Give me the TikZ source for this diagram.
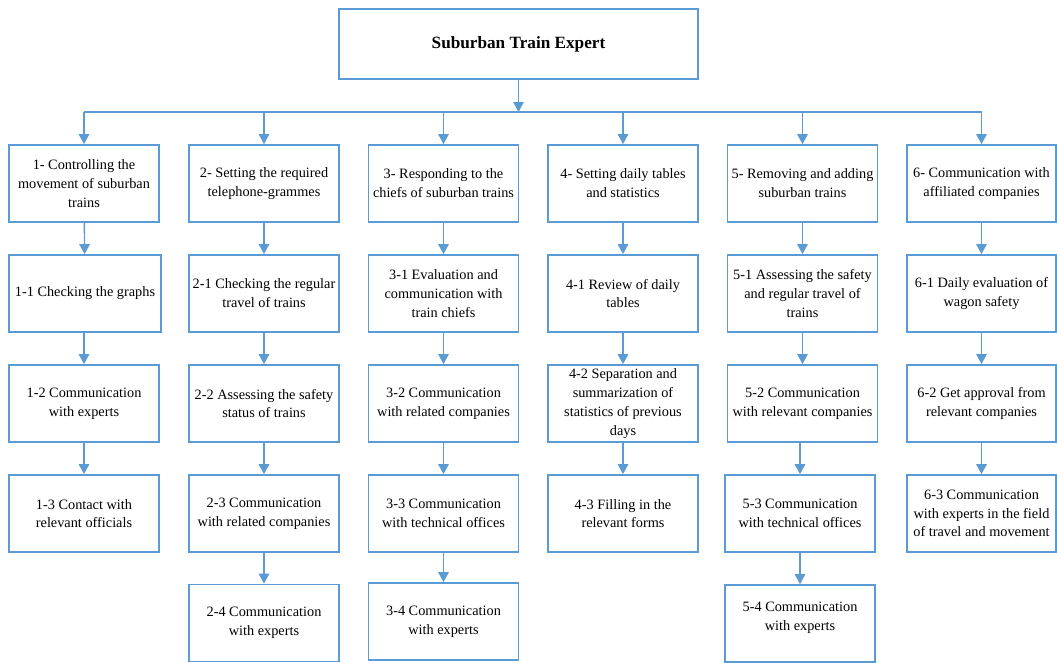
\documentclass[tikz,border=0pt]{standalone}
\usepackage{fontspec}
\setmainfont{Liberation Serif}
\usetikzlibrary{arrows.meta}
\definecolor{boxblue}{RGB}{91,155,213}
\tikzset{
  box/.style={draw=boxblue, line width=1.8pt, minimum width=150pt, minimum height=77pt,
    inner sep=0pt, align=center, font=\fontsize{14.3}{18.8}\selectfont},
  titlebox/.style={draw=boxblue, line width=1.8pt, minimum width=359pt, minimum height=70pt,
    inner sep=0pt, align=center, font=\bfseries\fontsize{17.2}{20}\selectfont},
  arr/.style={draw=boxblue, line width=1.4pt, -{Triangle[length=10pt,width=10.5pt]}},
  bus/.style={draw=boxblue, line width=1.4pt}
}
\begin{document}
\begin{tikzpicture}[x=1pt,y=-1pt]
\useasboundingbox (0,0) rectangle (1057,662);
\node[titlebox] (top) at (518.5,44) {Suburban Train Expert};
\coordinate (bus) at (518.5,112);
% column 1
\node[box] (n10) at (84,183.5) {1- Controlling the\\movement of suburban\\trains};
\node[box, minimum width=152.5pt] (n11) at (85,293.5) {1-1 Checking the graphs};
\node[box] (n12) at (84,403.5) {1-2 Communication\\with experts};
\node[box] (n13) at (84,513.5) {1-3 Contact with\\relevant officials};
% column 2
\node[box] (n20) at (264,183.5) {2- Setting the required\\telephone-grammes};
\node[box] (n21) at (264,293.5) {2-1 Checking the regular\\travel of trains};
\node[box] (n22) at (264,403.5) {2-2 Assessing the safety\\status of trains};
\node[box] (n23) at (264,513.5) {2-3 Communication\\with related companies};
\node[box] (n24) at (264,623) {2-4 Communication\\with experts};
% column 3
\node[box] (n30) at (443.5,183.5) {3- Responding to the\\chiefs of suburban trains};
\node[box] (n31) at (443.5,293.5) {3-1 Evaluation and\\communication with\\train chiefs};
\node[box] (n32) at (443.5,403.5) {3-2 Communication\\with related companies};
\node[box] (n33) at (443.5,513.5) {3-3 Communication\\with technical offices};
\node[box] (n34) at (443.5,621.5) {3-4 Communication\\with experts};
% column 4
\node[box] (n40) at (623,183.5) {4- Setting daily tables\\and statistics};
\node[box] (n41) at (623,293.5) {4-1 Review of daily\\tables};
\node[box] (n42) at (623,403.5) {4-2 Separation and\\summarization of\\statistics of previous\\days};
\node[box] (n43) at (623,513.5) {4-3 Filling in the\\relevant forms};
% column 5
\node[box] (n50) at (802.5,183.5) {5- Removing and adding\\suburban trains};
\node[box] (n51) at (802.5,293.5) {5-1 Assessing the safety\\and regular travel of\\trains};
\node[box] (n52) at (802.5,403.5) {5-2 Communication\\with relevant companies};
\node[box] (n53) at (800,513.5) {5-3 Communication\\with technical offices};
\node[box, label={[yshift=6pt, align=center, font=\fontsize{14.3}{18.8}\selectfont]center:{5-4 Communication\\with experts}}] (n54) at (800,623.5) {};
% column 6
\node[box, minimum width=149pt] (n60) at (981.5,183.5) {6- Communication with\\affiliated companies};
\node[box, minimum width=149pt] (n61) at (981.5,293.5) {6-1 Daily evaluation of\\wagon safety};
\node[box, minimum width=149pt] (n62) at (981.5,403.5) {6-2 Get approval from\\relevant companies};
\node[box, minimum width=149pt] (n63) at (981.5,513.5) {6-3 Communication\\with experts in the field\\of travel and movement};
% connectors
\draw[arr] (top) -- (bus);
\draw[bus] (bus) -- (bus -| n10.north);
\draw[bus] (bus) -- (bus -| n60.north);
\foreach \n in {n10,n20,n30,n40,n50,n60} {
  \draw[arr] (bus -| \n.north) -- (\n.north);
}
\draw[arr] (n10) -- (n11);
\draw[arr] (n11.south -| n12.north) -- (n12);
\draw[arr] (n12) -- (n13);
\draw[arr] (n20) -- (n21);
\draw[arr] (n21) -- (n22);
\draw[arr] (n22) -- (n23);
\draw[arr] (n23) -- (n24);
\draw[arr] (n30) -- (n31);
\draw[arr] (n31) -- (n32);
\draw[arr] (n32) -- (n33);
\draw[arr] (n33) -- (n34);
\draw[arr] (n40) -- (n41);
\draw[arr] (n41) -- (n42);
\draw[arr] (n42) -- (n43);
\draw[arr] (n50) -- (n51);
\draw[arr] (n51) -- (n52);
\draw[arr] (n52.south -| n53.north) -- (n53.north);
\draw[arr] (n53) -- (n54);
\draw[arr] (n60) -- (n61);
\draw[arr] (n61) -- (n62);
\draw[arr] (n62) -- (n63);
\end{tikzpicture}
\end{document}
